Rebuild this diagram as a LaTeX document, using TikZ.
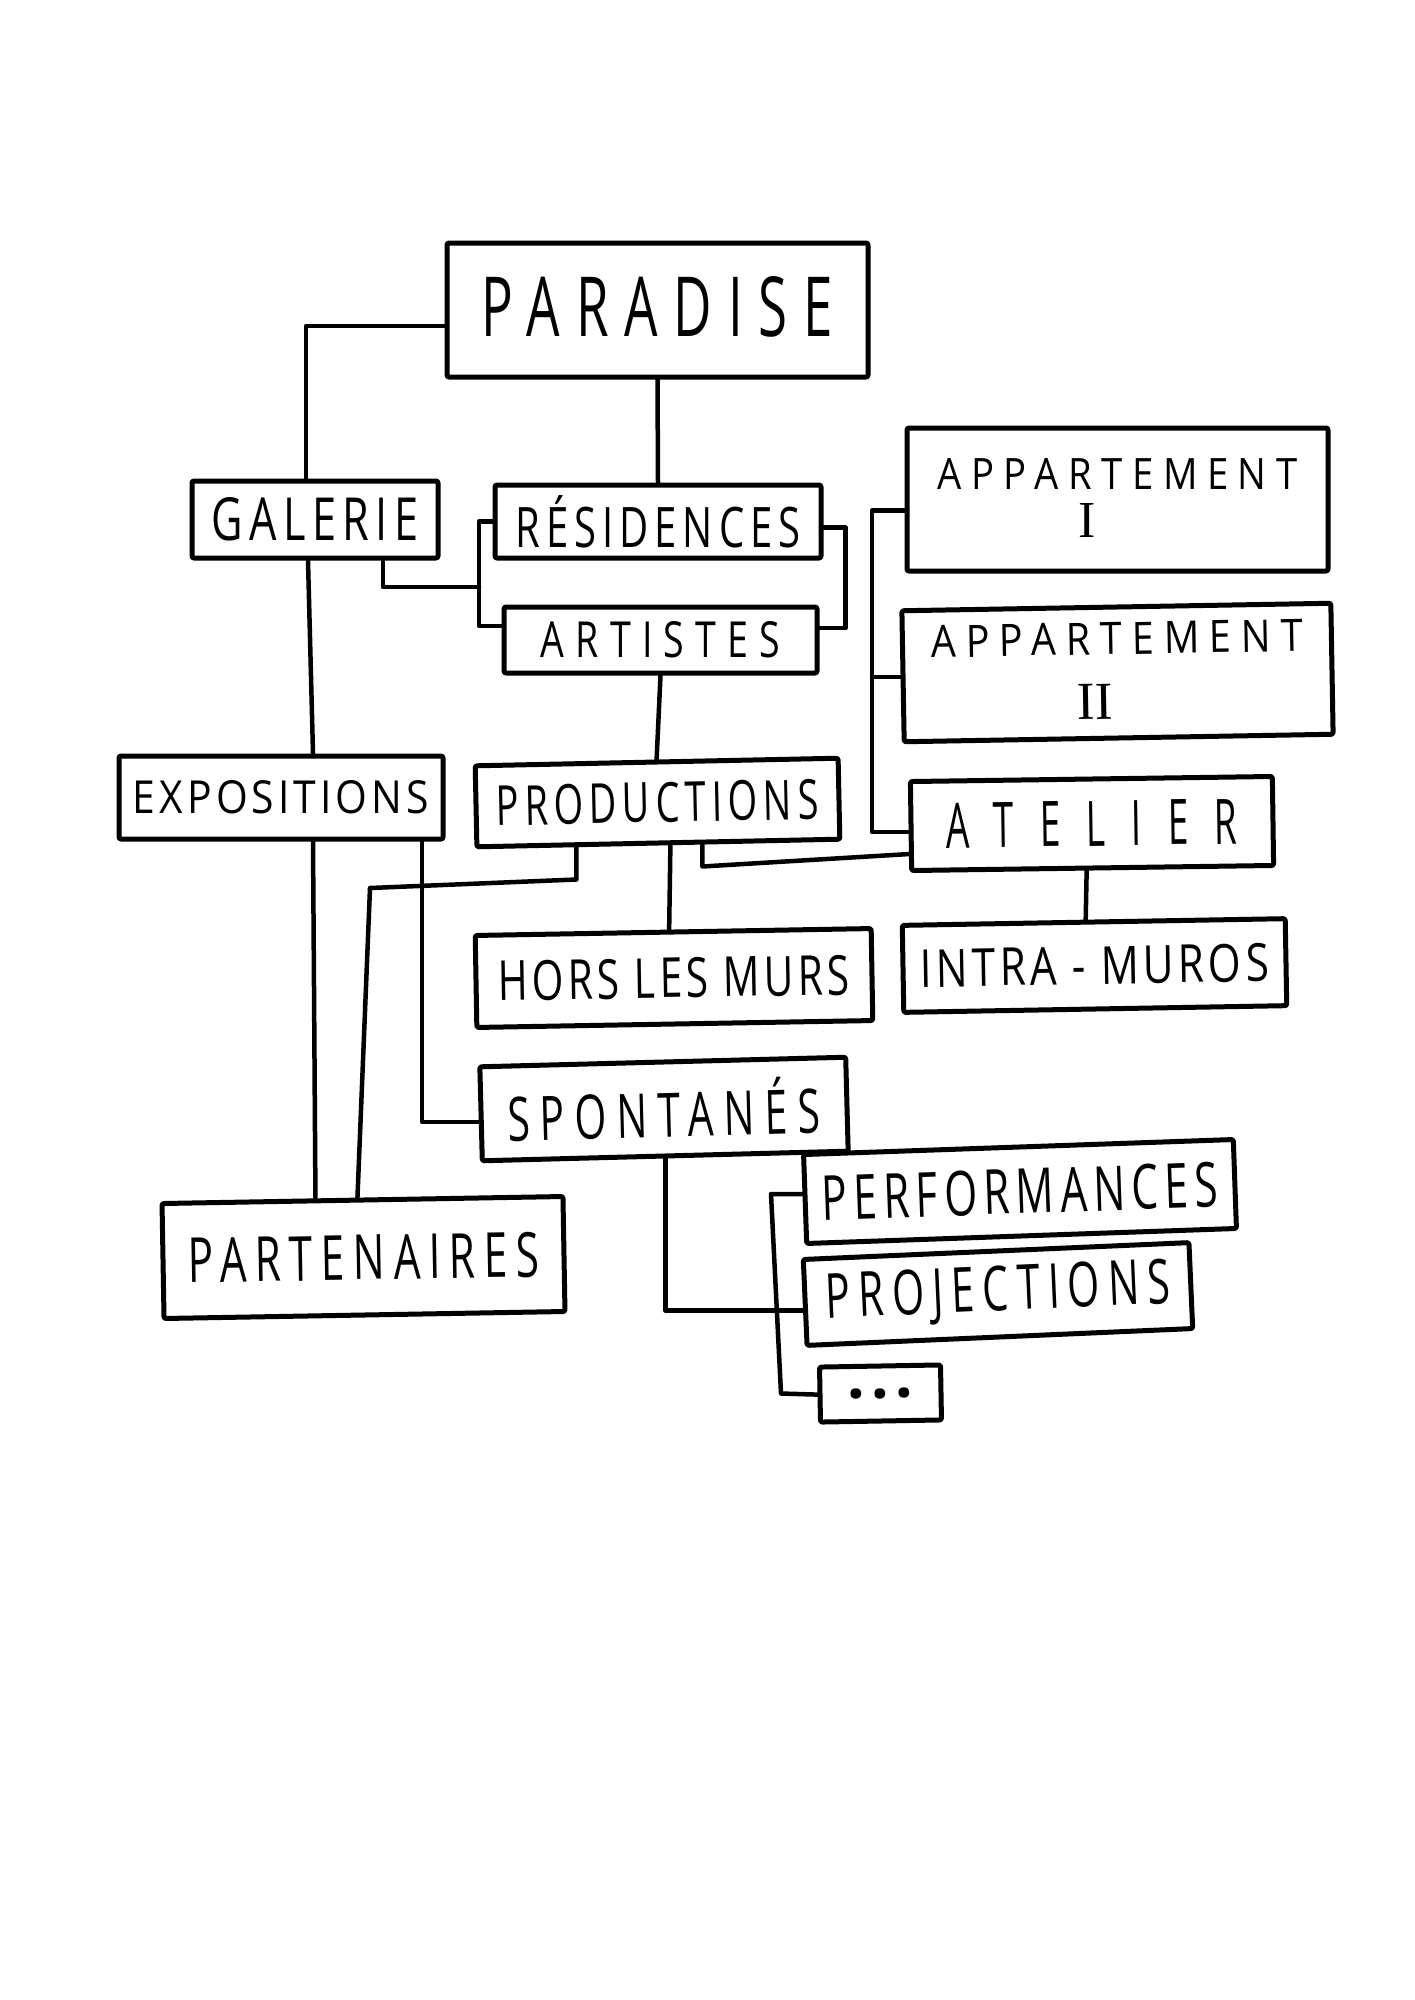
\documentclass[tikz,border=0pt]{standalone}
\usepackage{fontspec}
\setmainfont{Open Sans}
\newfontfamily\numfont{Liberation Serif}
\usepackage{graphicx}
\newcommand{\hw}[4]{\resizebox{#1pt}{#2pt}{\addfontfeature{LetterSpace=#3}#4}}
\newcommand{\rnum}[2]{\resizebox{!}{#1pt}{\numfont #2}}
\tikzset{
  box/.style={draw, line width=5pt, inner sep=0pt, rounded corners=2pt, line join=round},
  wire/.style={draw, line width=4.5pt, line join=round, line cap=round}
}
\begin{document}
\begin{tikzpicture}[x=1pt,y=-1pt]
\useasboundingbox (0,0) rectangle (1414,2000);
\fill[white] (0,0) rectangle (1414,2000);

\node[box, minimum width=421pt, minimum height=134pt] (paradise) at (657.5,310) {\raisebox{8pt}{\hw{351}{60}{30}{PARADISE}}};
\node[box, minimum width=246pt, minimum height=77pt] (galerie) at (315,519.5) {\hw{207}{43}{15}{GALERIE}};
\node[box, minimum width=326pt, minimum height=73pt] (res) at (658,521.5) {\hw{285}{52}{15}{RÉSIDENCES}};
\node[box, minimum width=313pt, minimum height=66pt] (art) at (660.5,640) {\hw{240}{36}{30}{ARTISTES}};
\node[box, minimum width=421pt, minimum height=143pt] (app1) at (1117.5,499.5) {\begin{tabular}{@{}c@{}}\hw{360}{31}{25}{APPARTEMENT}\\[10pt]\rnum{34}{I}\hspace*{60pt}\end{tabular}};
\node[box, minimum width=429pt, minimum height=131pt, rotate=1] (app2) at (1117.5,672.5) {\begin{tabular}{@{}c@{}}\hw{372}{32}{25}{APPARTEMENT}\\[26pt]\rnum{35}{II}\hspace*{46pt}\end{tabular}};
\node[box, minimum width=324pt, minimum height=83pt] (expo) at (281,797.5) {\hw{296}{33}{10}{EXPOSITIONS}};
\node[box, minimum width=363pt, minimum height=81pt, rotate=1.2] (prod) at (657.5,802.5) {\hw{322}{40}{15}{PRODUCTIONS}};
\node[box, minimum width=362pt, minimum height=89pt, rotate=0.8] (atelier) at (1092,823.5) {\hw{291}{45}{70}{ATELIER}};
\node[box, minimum width=396pt, minimum height=92pt, rotate=1] (hlm) at (674,978) {\hw{351}{40}{10}{HORS LES MURS}};
\node[box, minimum width=383pt, minimum height=87pt, rotate=1] (intra) at (1094.5,965.5) {\hw{349}{38}{10}{INTRA - MUROS}};
\node[box, minimum width=366pt, minimum height=94pt, rotate=1.5] (spon) at (664,1109) {\hw{313}{57}{25}{SPONTANÉS}};
\node[box, minimum width=430pt, minimum height=89pt, rotate=2] (perf) at (1020,1191.5) {\hw{396}{45}{15}{PERFORMANCES}};
\node[box, minimum width=386pt, minimum height=86pt, rotate=2.5] (proj) at (998,1294) {\hw{345}{45}{20}{PROJECTIONS}};
\node[box, minimum width=121pt, minimum height=55pt, rotate=1] (dots) at (880.5,1393.5) {\resizebox{66pt}{!}{\bfseries\addfontfeature{LetterSpace=10}...}};
\node[box, minimum width=401pt, minimum height=115pt, rotate=1] (part) at (363.5,1257.5) {\hw{351}{45}{20}{PARTENAIRES}};

\coordinate (resk) at (479,587);
\coordinate (appk) at (872,677);
\coordinate (partk) at (370,888);
\coordinate (spk1) at (771,1194);
\coordinate (spk2) at (781,1393.5);

\draw[wire] ([yshift=-16pt]paradise.west) -| ([xshift=-9pt]galerie.north);
\draw[wire] (paradise.south) -- (res.north);
\draw[wire] ([xshift=-7pt]galerie.south) -- ([xshift=32pt]expo.north);
\draw[wire] ([xshift=68pt]galerie.south) |- (resk);
\draw[wire] (res.west) -| (resk) |- ([yshift=14pt]art.west);
\draw[wire] ([yshift=-6pt]res.east) -- ++(22,0) |- ([yshift=12pt]art.east);
\draw[wire] (art.south) -- (prod.north);
\draw[wire] ([yshift=-11pt]app1.west) -| (appk) |- ([yshift=-6pt]atelier.west);
\draw[wire] (appk) -- (appk -| app2.west);
\draw[wire] ([xshift=44pt]prod.south) -- ++(0,21) -- ([yshift=-28pt]atelier.west);
\draw[wire] ([xshift=-82pt]prod.south) -- ++(0,34) -- (partk) -- ([xshift=-5pt]part.north);
\draw[wire] ([xshift=32pt]expo.south) -- ([xshift=-47pt]part.north);
\draw[wire] ([xshift=141pt]expo.south) |- ([yshift=-8pt]spon.west);
\draw[wire] ([xshift=12pt]prod.south) -- ([xshift=-4pt]hlm.north);
\draw[wire] ([xshift=-6pt]atelier.south) -- ([xshift=-8pt]intra.north);
\draw[wire] ([yshift=5pt]perf.west) -- (spk1) -- (spk2) -- (dots.west);
\draw[wire] (spon.south) |- ([yshift=-8pt]proj.west);
\end{tikzpicture}
\end{document}
